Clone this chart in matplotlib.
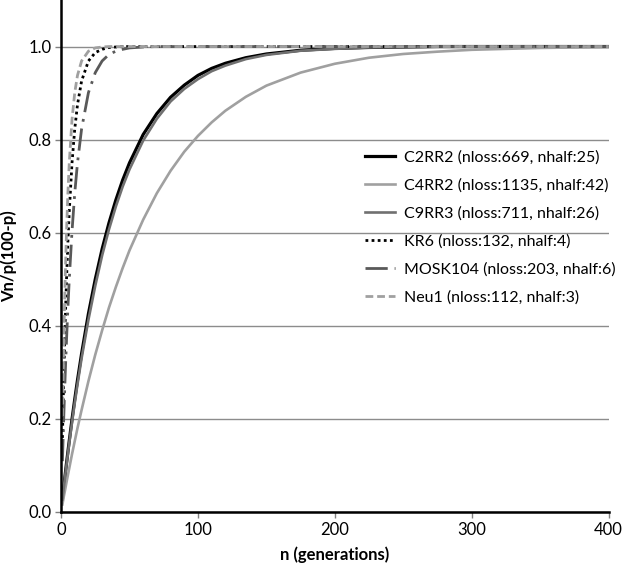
import matplotlib.pyplot as plt

plt.rcParams['font.family'] = ['Lato', 'DejaVu Sans']

# generations (x) and curve values
n = [1, 2, 3, 4, 5, 6, 8, 10, 12, 15, 20, 25, 30, 35, 40, 45, 50, 60, 70, 80,
     90, 100, 110, 120, 135, 150, 175, 200, 225, 250, 275, 300, 325, 350, 400]

c2rr2 = [0.027, 0.054, 0.080, 0.105, 0.129, 0.153, 0.199, 0.242, 0.283, 0.340,
         0.426, 0.500, 0.565, 0.621, 0.670, 0.713, 0.750, 0.811, 0.856, 0.891,
         0.917, 0.938, 0.953, 0.964, 0.976, 0.984, 0.992, 0.996, 0.998, 0.999,
         1.0, 1.0, 1.0, 1.0, 1.0]
c4rr2 = [0.016, 0.033, 0.048, 0.064, 0.079, 0.094, 0.124, 0.152, 0.180, 0.219,
         0.281, 0.338, 0.390, 0.439, 0.483, 0.524, 0.562, 0.628, 0.685, 0.733,
         0.774, 0.808, 0.837, 0.862, 0.892, 0.916, 0.944, 0.963, 0.976, 0.984,
         0.989, 0.993, 0.995, 0.997, 0.999]
c9rr3 = [0.026, 0.052, 0.077, 0.101, 0.125, 0.148, 0.192, 0.234, 0.274, 0.330,
         0.413, 0.486, 0.551, 0.607, 0.656, 0.699, 0.736, 0.798, 0.845, 0.882,
         0.909, 0.930, 0.947, 0.959, 0.973, 0.982, 0.991, 0.995, 0.998, 0.999,
         1.0, 1.0, 1.0, 1.0, 1.0]
kr6 = [0.159, 0.293, 0.405, 0.500, 0.580, 0.646, 0.750, 0.823, 0.875, 0.926,
       0.969, 0.987, 0.994, 0.998, 0.999, 1.0, 1.0, 1.0, 1.0, 1.0,
       1.0, 1.0, 1.0, 1.0, 1.0, 1.0, 1.0, 1.0, 1.0, 1.0,
       1.0, 1.0, 1.0, 1.0, 1.0]
mosk104 = [0.109, 0.206, 0.293, 0.370, 0.439, 0.500, 0.603, 0.685, 0.750, 0.823,
           0.901, 0.944, 0.969, 0.983, 0.990, 0.994, 0.997, 0.999, 1.0, 1.0,
           1.0, 1.0, 1.0, 1.0, 1.0, 1.0, 1.0, 1.0, 1.0, 1.0,
           1.0, 1.0, 1.0, 1.0, 1.0]
neu1 = [0.206, 0.370, 0.500, 0.603, 0.685, 0.750, 0.843, 0.901, 0.938, 0.969,
        0.990, 0.997, 0.999, 1.0, 1.0, 1.0, 1.0, 1.0, 1.0, 1.0,
        1.0, 1.0, 1.0, 1.0, 1.0, 1.0, 1.0, 1.0, 1.0, 1.0,
        1.0, 1.0, 1.0, 1.0, 1.0]

labels = ['C2RR2 (nloss:669, nhalf:25)', 'C4RR2 (nloss:1135, nhalf:42)',
          'C9RR3 (nloss:711, nhalf:26)', 'KR6 (nloss:132, nhalf:4)',
          'MOSK104 (nloss:203, nhalf:6)', 'Neu1 (nloss:112, nhalf:3)']

fig = plt.figure(figsize=(6.23, 5.65), dpi=100)
ax = fig.add_axes([0.098, 0.094, 0.879, 0.906])

ax.plot(n, c2rr2, color='black', lw=2.3, label=labels[0])
ax.plot(n, c4rr2, color='#a0a0a0', lw=1.9, label=labels[1])
ax.plot(n, c9rr3, color='#707070', lw=1.9, label=labels[2])
ax.plot(n, kr6, color='black', lw=2.0, ls=(0, (1, 1.2)), label=labels[3])
ax.plot(n, mosk104, color='#595959', lw=2.0, ls=(0, (8, 2.5, 1, 2.5)), label=labels[4])
ax.plot(n, neu1, color='#a0a0a0', lw=2.0, ls=(0, (2.8, 1.4)), label=labels[5])

ax.set_xlim(0, 400)
ax.set_ylim(0, 1.1)
ax.set_xticks([0, 100, 200, 300, 400])
ax.set_yticks([0.0, 0.2, 0.4, 0.6, 0.8, 1.0])
ax.set_yticklabels(['0.0', '0.2', '0.4', '0.6', '0.8', '1.0'])
ax.yaxis.grid(True, color='#8c8c8c', lw=1.0)
ax.set_axisbelow(True)

for s in ['top', 'right']:
    ax.spines[s].set_visible(False)
for s in ['left', 'bottom']:
    ax.spines[s].set_linewidth(1.8)
    ax.spines[s].set_color('black')
ax.tick_params(labelsize=12, length=4, width=1, color='#808080', pad=3)

ax.set_xlabel('n (generations)', fontsize=12, fontweight='bold', labelpad=6)
ax.set_ylabel('Vn/p(100-p)', fontsize=12, fontweight='bold', labelpad=8)

ax.legend(loc='center left', bbox_to_anchor=(0.555, 0.556), frameon=False,
          fontsize=11.5, handlelength=1.85, handletextpad=0.6,
          labelspacing=0.85, borderpad=0, borderaxespad=0)

fig.savefig('out.png', dpi=100)
